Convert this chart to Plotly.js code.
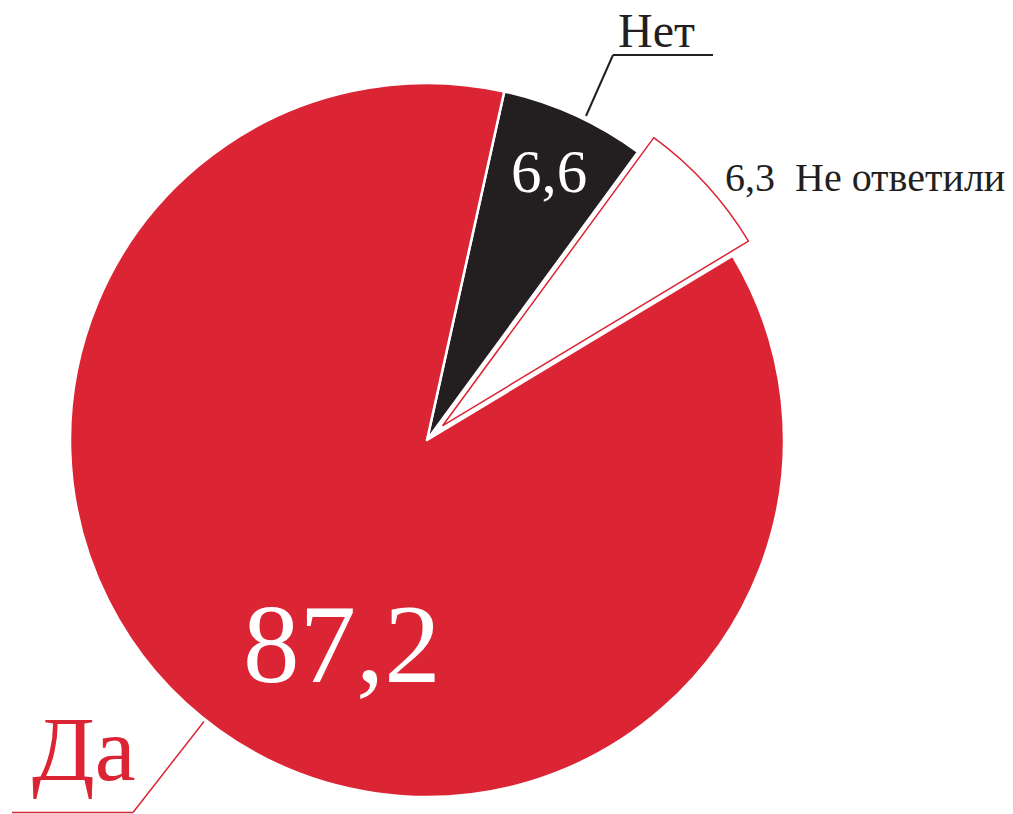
<!DOCTYPE html>
<html>
<head>
<meta charset="utf-8">
<script src="https://cdn.plot.ly/plotly-3.0.1.min.js"></script>
<style>
html, body { margin: 0; padding: 0; overflow: hidden; background: #ffffff; }
#chart { width: 1013px; height: 830px; }
</style>
</head>
<body>
<div id="chart"></div>
<script>
// Data
const labels = ['Нет', 'Не ответили', 'Да'];
const values = [6.6, 6.3, 87.2];
const sliceColors = ['#231f20', '#ffffff', '#db2535'];
const pulls = [0, 0.06, 0];

const W = 1013, H = 830;
const RED = '#db2535', BLACK = '#231f20';
const FONT = 'Liberation Serif';
const px = x => x / W;
const py = y => 1 - y / H;
const fmt = v => v.toFixed(1).replace('.', ',');

const trace = {
  type: 'pie',
  labels: labels,
  values: values,
  sort: false,
  direction: 'clockwise',
  rotation: 12.5,
  pull: pulls,
  textinfo: 'none',
  hoverinfo: 'label+value',
  showlegend: false,
  marker: {
    colors: sliceColors,
    line: { color: ['#ffffff', RED, '#ffffff'], width: [2.5, 1.5, 2.5] }
  },
  domain: { x: [px(48.6), px(805.4)], y: [py(818.4), py(61.6)] }
};

function ann(text, x, y, size, color, xanchor) {
  return {
    text: text, xref: 'paper', yref: 'paper', x: px(x), y: py(y),
    xanchor: xanchor, yanchor: 'middle', showarrow: false, borderpad: 0,
    font: { family: FONT, size: size, color: color }
  };
}

const annotations = [
  ann(labels[0], 617, 46.7 - 0.34 * 48, 48, BLACK, 'left'),
  ann(fmt(values[0]), 549, 192 - 0.34 * 61, 61, '#ffffff', 'center'),
  ann(fmt(values[1]) + '\u00a0\u00a0' + labels[1], 724, 190.7 - 0.34 * 40, 40, BLACK, 'left'),
  ann(fmt(values[2]), 341.5, 681.7 - 0.34 * 113, 113, '#ffffff', 'center'),
  ann(labels[2], 31, 780 - 0.34 * 92, 92, RED, 'left')
];

function seg(x0, y0, x1, y1, color, w) {
  return { type: 'line', xref: 'paper', yref: 'paper',
    x0: px(x0), y0: py(y0), x1: px(x1), y1: py(y1),
    line: { color: color, width: w } };
}

const shapes = [
  seg(613, 55, 713, 55, BLACK, 2),
  seg(613, 55, 586, 116, BLACK, 2),
  seg(12, 812.5, 133, 812.5, RED, 1.5),
  seg(133, 812.5, 204, 721.5, RED, 1.5)
];

const layout = {
  width: W, height: H,
  margin: { l: 0, r: 0, t: 0, b: 0 },
  paper_bgcolor: '#ffffff',
  plot_bgcolor: '#ffffff',
  showlegend: false,
  font: { family: FONT },
  annotations: annotations,
  shapes: shapes
};

Plotly.newPlot('chart', [trace], layout, { displayModeBar: false, staticPlot: true });
</script>
</body>
</html>
